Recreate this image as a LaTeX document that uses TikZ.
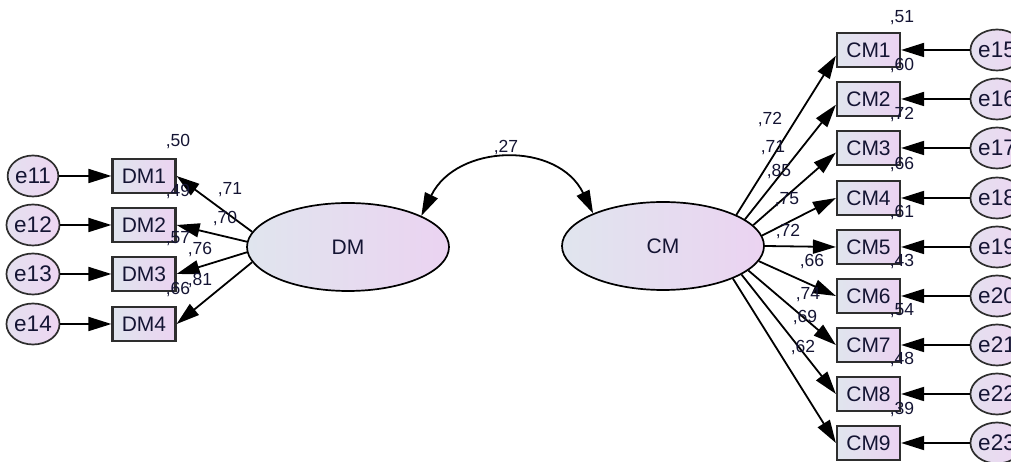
\documentclass[tikz,border=0pt]{standalone}
\usepackage{fontspec}
\setmainfont{Liberation Sans}
\usetikzlibrary{arrows.meta,shapes.geometric}
\definecolor{txt}{HTML}{141433}
\definecolor{fillL}{HTML}{E0E5EE}
\definecolor{fillR}{HTML}{EBD3F1}
\definecolor{eL}{HTML}{E4E0EF}
\definecolor{eR}{HTML}{EED6F2}
\definecolor{boxline}{HTML}{2E2E2E}
\begin{document}
\begin{tikzpicture}[x=1pt,y=1pt,
  obs/.style={draw=boxline,line width=2.2pt,rectangle,minimum width=63pt,minimum height=34pt,inner sep=0pt,
    left color=fillL,right color=fillR,text=txt,font=\fontsize{21}{21}\selectfont},
  lat/.style={draw=black,line width=1.7pt,ellipse,minimum width=202pt,minimum height=88pt,inner sep=0pt,
    left color=fillL,right color=fillR,text=txt,font=\fontsize{21}{21}\selectfont},
  err/.style={draw=boxline,line width=1.7pt,ellipse,minimum width=46pt,minimum height=41pt,inner sep=0pt,
    left color=eL,right color=eR,text=txt,font=\fontsize{22.5}{22.5}\selectfont},
  num/.style={text=txt,inner sep=0pt,font=\fontsize{17.5}{17.5}\selectfont},
  path/.style={line width=1.8pt,-{Triangle[length=23pt,width=14pt]}},
  cov/.style={line width=1.8pt,{Triangle[length=23pt,width=14pt]}-{Triangle[length=23pt,width=14pt]}}
]
\useasboundingbox (0,0) rectangle (1011,462);
% latent
\node[lat] (DM) at (348,215) {DM};
\node[lat] (CM) at (663,216) {CM};
% DM side
\foreach \i/\y in {1/286,2/237,3/188,4/138}{
  \node[obs] (dm\i) at (144,\y) {DM\i};
}
\foreach \e/\i/\y in {11/1/286,12/2/237,13/3/188,14/4/138}{
  \node[err] (e\e) at (33,\y) {e\e};
  \draw[path] (e\e) -- (dm\i);
}
\draw[path] (DM.171) -- (dm1.east);
\draw[path] (DM.177) -- (dm2.east);
\draw[path] (DM.183) -- (dm3.east);
\draw[path] (DM.189) -- (dm4.east);
% CM side
\foreach \i/\y in {1/412,2/363,3/314,4/264,5/215,6/166,7/117,8/68,9/19}{
  \node[obs] (cm\i) at (868.5,\y) {CM\i};
}
\foreach \e/\i/\y in {15/1/412,16/2/363,17/3/314,18/4/264,19/5/215,20/6/166,21/7/117,22/8/68,23/9/19}{
  \node[err] (e\e) at (997,\y) {e\e};
  \draw[path] (e\e) -- (cm\i);
}
\draw[path] (CM.23) -- (cm1.190);
\draw[path] (CM.18) -- (cm2.190);
\draw[path] (CM.13.5) -- (cm3.188);
\draw[path] (CM.6.5) -- (cm4.west);
\draw[path] (CM.0) -- (cm5.west);
\draw[path] (CM.-9.7) -- (cm6.west);
\draw[path] (CM.-16) -- (cm7.west);
\draw[path] (CM.-20.7) -- (cm8.west);
\draw[path] (CM.-25.6) -- (cm9.west);
% covariance
\draw[cov] (DM.23.4) to[out=64,in=116,looseness=1.2] (CM.155);
% numbers DM
\node[num] at (178,320) {,50};
\node[num] at (178,270) {,49};
\node[num] at (178,223) {,57};
\node[num] at (178,172) {,66};
\node[num] at (230,272) {,71};
\node[num] at (225,243) {,70};
\node[num] at (200,212) {,76};
\node[num] at (200,181) {,81};
\node[num] at (506,314) {,27};
% numbers CM
\node[num] at (902,444) {,51};
\node[num] at (902,396) {,60};
\node[num] at (902,347) {,72};
\node[num] at (902,297) {,66};
\node[num] at (902,249) {,61};
\node[num] at (902,200) {,43};
\node[num] at (902,151) {,54};
\node[num] at (902,102) {,48};
\node[num] at (902,52) {,39};
\node[num] at (770,342) {,72};
\node[num] at (773,314) {,71};
\node[num] at (779,290) {,85};
\node[num] at (787,262) {,75};
\node[num] at (788,230) {,72};
\node[num] at (812,200) {,66};
\node[num] at (808,167) {,74};
\node[num] at (805,144) {,69};
\node[num] at (803,114) {,62};
\end{tikzpicture}
\end{document}
